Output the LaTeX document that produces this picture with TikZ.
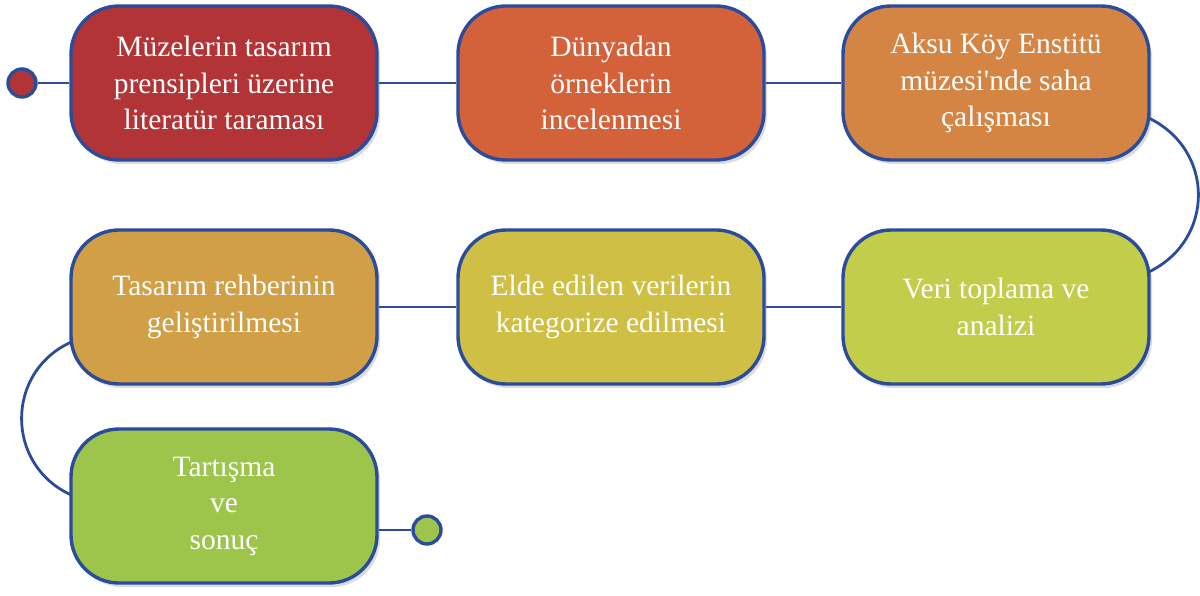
\documentclass[tikz,border=0pt]{standalone}
\usepackage{fontspec}
\setmainfont{Liberation Serif}
\usetikzlibrary{shadows}
\definecolor{edge}{HTML}{2B4C9B}
\definecolor{c1}{HTML}{B23436}
\definecolor{c2}{HTML}{D3623B}
\definecolor{c3}{HTML}{D58543}
\definecolor{c4}{HTML}{D19F45}
\definecolor{c5}{HTML}{CFC045}
\definecolor{c6}{HTML}{C2CD4B}
\definecolor{c7}{HTML}{9DC54C}
\tikzset{
  stepbox/.style={draw=edge, line width=3.4pt, rounded corners=48pt,
    minimum width=306pt, minimum height=154pt, inner sep=0pt,
    align=center, text=white,
    font=\fontsize{29.5}{36.5}\selectfont,
    drop shadow={opacity=0.28, shadow xshift=3pt, shadow yshift=-4pt}},
  link/.style={draw=edge, line width=2.8pt},
  dot/.style={circle, draw=edge, line width=3.4pt, minimum size=28pt, inner sep=0pt}
}
\begin{document}
\begin{tikzpicture}[x=1pt,y=-1pt]
\useasboundingbox (0,0) rectangle (1200,596);
\node[dot, fill=c1] (start) at (22,83) {};
\node[stepbox, fill=c1] (b1) at (224,83) {Müzelerin tasarım\\prensipleri üzerine\\literatür taraması};
\node[stepbox, fill=c2] (b2) at (611,83) {Dünyadan\\örneklerin\\incelenmesi};
\node[stepbox, fill=c3] (b3) at (996,83) {Aksu Köy Enstitü\\müzesi\textquotesingle nde saha\\çalışması};
\node[stepbox, fill=c6] (b6) at (996,307) {Veri toplama ve\\analizi};
\node[stepbox, fill=c5] (b5) at (611,307) {Elde edilen verilerin\\kategorize edilmesi};
\node[stepbox, fill=c4] (b4) at (224,307) {Tasarım rehberinin\\geliştirilmesi};
\node[stepbox, fill=c7] (b7) at (224,506) {Tartışma\\ve\\sonuç};
\node[dot, fill=c7] (end) at (427,530) {};
\draw[link] (start) -- (b1);
\draw[link] (b1) -- (b2);
\draw[link] (b2) -- (b3);
\draw[link] ([xshift=-2pt,yshift=-35pt]b3.east) .. controls (1215,150) and (1215,240) .. ([xshift=-2pt,yshift=35pt]b6.east);
\draw[link] (b6) -- (b5);
\draw[link] (b5) -- (b4);
\draw[link] ([xshift=2pt,yshift=-35pt]b4.west) .. controls (5,372) and (5,465) .. ([xshift=2pt,yshift=11pt]b7.west);
\draw[link] ([yshift=-24pt]b7.east) -- (end);
\end{tikzpicture}
\end{document}
